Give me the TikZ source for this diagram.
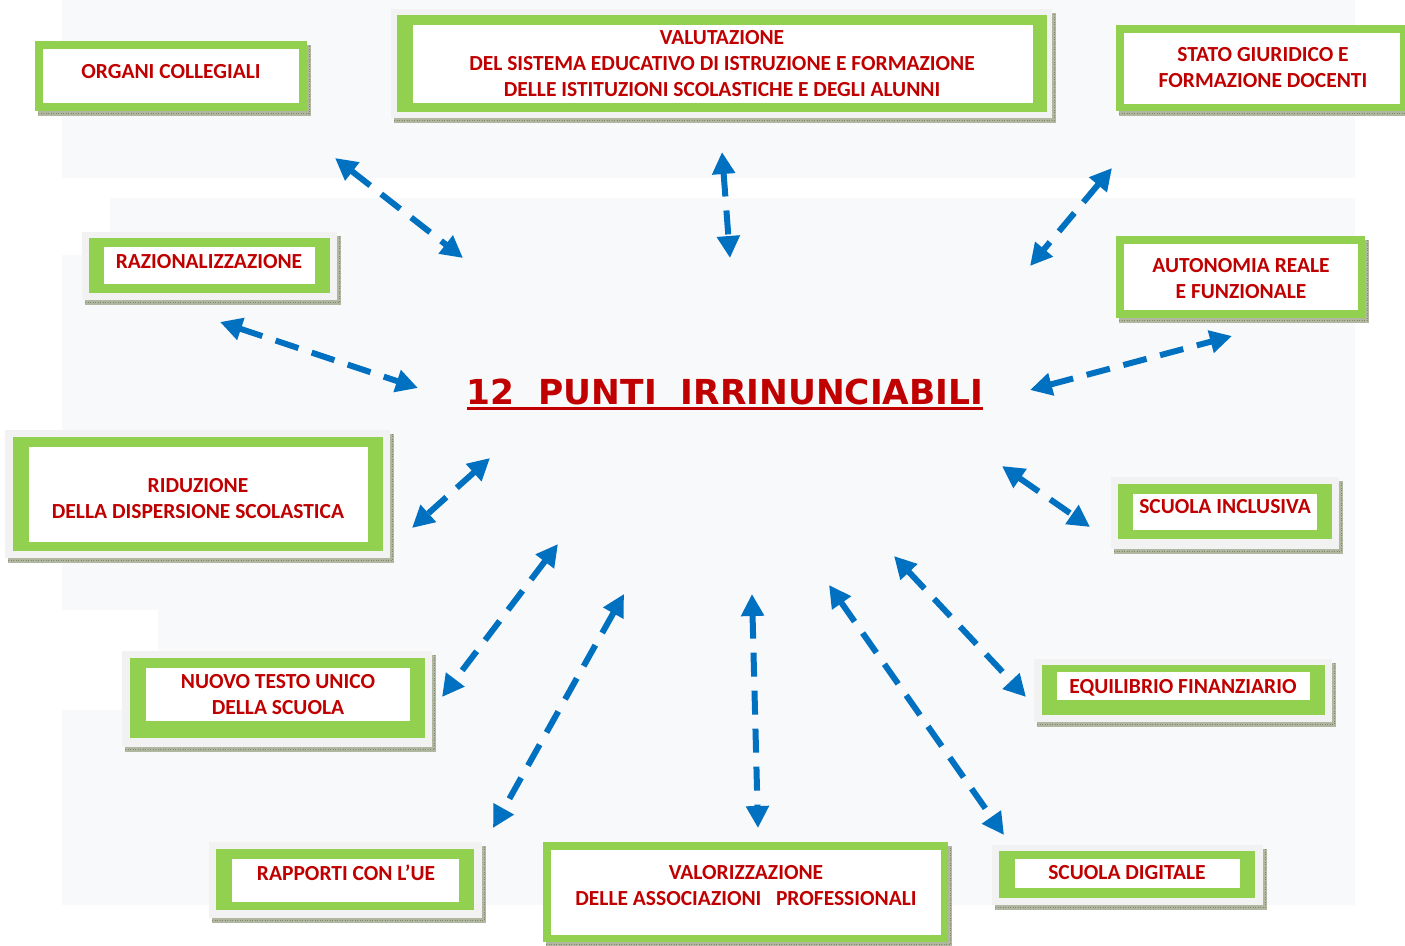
\documentclass[tikz,border=0pt]{standalone}
\usepackage{fontspec}
\setmainfont{Carlito}
\newfontfamily\titlefont{DejaVu Sans}
\usetikzlibrary{arrows.meta}
\definecolor{grn}{HTML}{92D050}
\definecolor{txtred}{HTML}{C00000}
\definecolor{blu}{HTML}{0070C0}
\definecolor{frm}{HTML}{F2F2F2}
\definecolor{bgc}{HTML}{F8F9FB}
\definecolor{shd}{RGB}{176,182,160}
\definecolor{shdd}{RGB}{128,136,108}
\newcommand\shadowfor[4]{%
  \fill[shd] ({#1+3},#4) rectangle ({#3+4},{#4+5});
  \fill[shd] (#3,{#2+4}) rectangle ({#3+4},{#4+5});
  \draw[shdd, line width=0.8pt, dash pattern=on 1pt off 1.5pt] ({#1+3},{#4+2.5}) -- ({#3+2},{#4+2.5}) -- ({#3+2},{#2+4});
}
\newcommand\pnl[8]{%
  \fill[grn] (#1,#2) rectangle (#3,#4);
  \fill[white] (#5,#6) rectangle (#7,#8);
}
\newcommand\frm[4]{\fill[frm] (#1,#2) rectangle (#3,#4);}
\tikzset{
  lbl/.style={text=txtred, font=\fontsize{21.5}{26}\selectfont\bfseries, align=center, inner sep=0pt},
  ttl/.style={text=txtred, font=\titlefont\fontsize{34.4}{40}\selectfont\bfseries, inner sep=0pt},
  arr/.style={draw=blu, line width=6pt, dash pattern=on 24pt off 14pt,
    {Triangle[length=22pt,width=22pt]}-{Triangle[length=22pt,width=22pt]}}
}
\begin{document}
\begin{tikzpicture}[x=1pt,y=-1pt]
\useasboundingbox (0,0) rectangle (1405,945);
\fill[white] (0,0) rectangle (1405,945);
% background panels
\fill[bgc] (62,0) rectangle (1355,178);
\fill[bgc] (110,198) rectangle (1355,255);
\fill[bgc] (62,255) rectangle (1355,610);
\fill[bgc] (158,610) rectangle (1355,710);
\fill[bgc] (62,710) rectangle (1355,905);
% boxes
\shadowfor{35}{41}{307}{111}
\pnl{35}{41}{307}{111}{43}{49}{299}{103}
\shadowfor{391}{9}{1052}{118}
\frm{391}{9}{1052}{118}
\pnl{397}{15}{1047}{112}{413}{25}{1033}{103}
\shadowfor{1116}{25}{1405}{111}
\pnl{1116}{25}{1405}{111}{1124}{33}{1400}{104}
\shadowfor{82}{232}{337}{300}
\frm{82}{232}{337}{300}
\pnl{89}{238}{330}{293}{104}{247}{315}{284}
\shadowfor{1116}{236}{1365}{318}
\pnl{1116}{236}{1365}{318}{1124}{244}{1358}{310}
\shadowfor{5}{430}{390}{558}
\frm{5}{430}{390}{558}
\pnl{13}{437}{383}{551}{29}{447}{368}{542}
\shadowfor{1111}{477}{1339}{549}
\frm{1111}{477}{1339}{549}
\pnl{1118}{484}{1332}{539}{1133}{494}{1317}{530}
\shadowfor{122}{651}{432}{747}
\frm{122}{651}{432}{747}
\pnl{130}{658}{425}{738}{146}{668}{410}{721}
\shadowfor{1034}{659}{1332}{722}
\frm{1034}{659}{1332}{722}
\pnl{1042}{665}{1325}{715}{1057}{672}{1310}{700}
\shadowfor{209}{842}{482}{918}
\frm{209}{842}{482}{918}
\pnl{216}{849}{474}{910}{232}{859}{459}{902}
\shadowfor{543}{842}{948}{942}
\pnl{543}{842}{948}{942}{551}{850}{941}{935}
\shadowfor{992}{845}{1263}{905}
\frm{992}{845}{1263}{905}
\pnl{999}{851}{1255}{898}{1015}{859}{1240}{888}
% labels
\node[lbl] (organi) at (171,72) {ORGANI COLLEGIALI};
\node[lbl] (valut) at (722,64) {VALUTAZIONE\\DEL SISTEMA EDUCATIVO DI ISTRUZIONE E FORMAZIONE\\DELLE ISTITUZIONI SCOLASTICHE E DEGLI ALUNNI};
\node[lbl] (stato) at (1263,68) {STATO GIURIDICO E\\FORMAZIONE DOCENTI};
\node[lbl] (razio) at (209,262) {RAZIONALIZZAZIONE};
\node[lbl] (auton) at (1241,279) {AUTONOMIA REALE\\E FUNZIONALE};
\node[lbl] (ridu) at (198,499) {RIDUZIONE\\DELLA DISPERSIONE SCOLASTICA};
\node[lbl] (inclu) at (1225,507) {SCUOLA INCLUSIVA};
\node[lbl] (nuovo) at (278,695) {NUOVO TESTO UNICO\\DELLA SCUOLA};
\node[lbl] (equil) at (1183,688) {EQUILIBRIO FINANZIARIO};
\node[lbl] (rapp) at (346,873) {RAPPORTI CON L’UE};
\node[lbl] (valor) at (746,886) {VALORIZZAZIONE\\DELLE ASSOCIAZIONI\ \ \ PROFESSIONALI};
\node[lbl] (digit) at (1127,873) {SCUOLA DIGITALE};
% title
\node[ttl] (title) at (725,392) {12\ \ PUNTI\ \ IRRINUNCIABILI};
\draw[txtred, line width=3pt] ([yshift=-4pt]title.base west) -- ([yshift=-4pt]title.base east);
% arrow end points
\coordinate (a1s) at (335,158);  \coordinate (a1e) at (463,258);
\coordinate (a2s) at (722,152);  \coordinate (a2e) at (730,258);
\coordinate (a3s) at (1112,168); \coordinate (a3e) at (1030,266);
\coordinate (a4s) at (220,322);  \coordinate (a4e) at (418,388);
\coordinate (a5s) at (1030,390); \coordinate (a5e) at (1232,336);
\coordinate (a6s) at (490,458);  \coordinate (a6e) at (412,528);
\coordinate (a7s) at (1002,466); \coordinate (a7e) at (1090,527);
\coordinate (a8s) at (558,544);  \coordinate (a8e) at (442,697);
\coordinate (a9s) at (894,556);  \coordinate (a9e) at (1026,697);
\coordinate (a10s) at (624,594); \coordinate (a10e) at (493,828);
\coordinate (a11s) at (752,594); \coordinate (a11e) at (758,828);
\coordinate (a12s) at (829,585); \coordinate (a12e) at (1004,835);
\foreach \i in {1,...,12} {\draw[arr] (a\i s) -- (a\i e);}
\end{tikzpicture}
\end{document}
